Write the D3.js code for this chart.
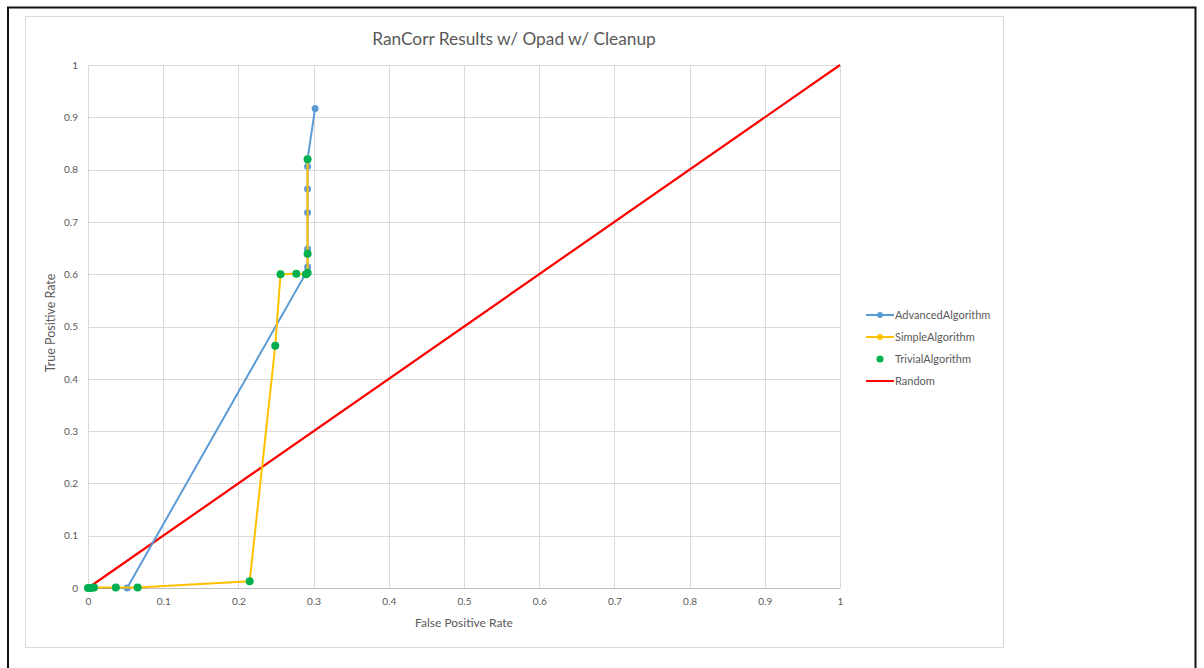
<!DOCTYPE html>
<html>
<head>
<meta charset="utf-8">
<script src="https://cdn.jsdelivr.net/npm/d3@7/dist/d3.min.js"></script>
<style>
  html, body { margin: 0; padding: 0; background: #fff; }
  svg { display: block; font-family: Lato, "Open Sans", sans-serif; }
</style>
</head>
<body>
<svg id="chart" width="1204" height="668"></svg>
<script>
// ROC points: false positive rate (x) / true positive rate (y)
const advancedFPR = [0, 0.003, 0.006, 0.052, 0.289, 0.292, 0.292, 0.292, 0.292, 0.292, 0.292, 0.302];
const advancedTPR = [0, 0, 0, 0, 0.600, 0.614, 0.648, 0.718, 0.763, 0.806, 0.820, 0.917];

const simpleFPR = [0, 0.004, 0.008, 0.037, 0.066, 0.215, 0.249, 0.256, 0.277, 0.290, 0.292, 0.292, 0.292];
const simpleTPR = [0, 0, 0.001, 0.001, 0.001, 0.013, 0.463, 0.600, 0.601, 0.600, 0.603, 0.639, 0.820];

const trivialFPR = [0, 0.004, 0.008, 0.037, 0.066, 0.215, 0.249, 0.256, 0.277, 0.290, 0.292, 0.292, 0.292];
const trivialTPR = [0, 0, 0.001, 0.001, 0.001, 0.013, 0.463, 0.600, 0.601, 0.600, 0.603, 0.639, 0.820];

const randomFPR = [0, 1];
const randomTPR = [0, 1];

const xTicks = [0, 0.1, 0.2, 0.3, 0.4, 0.5, 0.6, 0.7, 0.8, 0.9, 1];
const yTicks = [0, 0.1, 0.2, 0.3, 0.4, 0.5, 0.6, 0.7, 0.8, 0.9, 1];

const seriesNames = ["AdvancedAlgorithm", "SimpleAlgorithm", "TrivialAlgorithm", "Random"];
const seriesColors = ["#5b9bd5", "#ffc000", "#00b050", "#ff0000"];

const zip = (xs, ys) => xs.map((x, i) => ({ x, y: ys[i] }));

const svg = d3.select("#chart");
const textColor = "#595959";

// outer frame
svg.append("path")
  .attr("d", "M8,668 L8,7.5 L1195.5,7.5 L1195.5,668")
  .attr("fill", "none").attr("stroke", "#111").attr("stroke-width", 2);

// chart area box
svg.append("rect")
  .attr("x", 25.5).attr("y", 16.5).attr("width", 978).attr("height", 631)
  .attr("fill", "#fff").attr("stroke", "#d9d9d9").attr("stroke-width", 1);

const plot = { left: 88, right: 840, top: 65, bottom: 588 };
const x = d3.scaleLinear().domain([0, 1]).range([plot.left, plot.right]);
const y = d3.scaleLinear().domain([0, 1]).range([plot.bottom, plot.top]);

// gridlines
const grid = svg.append("g");
grid.selectAll("line.v").data(xTicks).join("line")
  .attr("x1", d => Math.round(x(d)) + 0.5).attr("x2", d => Math.round(x(d)) + 0.5)
  .attr("y1", plot.top).attr("y2", plot.bottom)
  .attr("stroke", "#d9d9d9").attr("stroke-width", 1);
grid.selectAll("line.h").data(yTicks).join("line")
  .attr("y1", d => Math.round(y(d)) + 0.5).attr("y2", d => Math.round(y(d)) + 0.5)
  .attr("x1", plot.left).attr("x2", plot.right)
  .attr("stroke", "#d9d9d9").attr("stroke-width", 1);

// axes (labels only, lines drawn by gridlines)
const xAxis = d3.axisBottom(x).tickValues(xTicks).tickSize(0).tickPadding(10)
  .tickFormat(d => d3.format("~g")(d));
const gx = svg.append("g").attr("transform", `translate(0,${plot.bottom})`).call(xAxis);
gx.select(".domain").attr("stroke", "#bfbfbf");
gx.selectAll("text").attr("fill", textColor).attr("font-size", 10).attr("font-family", "Lato, sans-serif");

const yAxis = d3.axisLeft(y).tickValues(yTicks).tickSize(0).tickPadding(10)
  .tickFormat(d => d3.format("~g")(d));
const gy = svg.append("g").attr("transform", `translate(${plot.left},0)`).call(yAxis);
gy.select(".domain").attr("stroke", "#d9d9d9");
gy.selectAll("text").attr("fill", textColor).attr("font-size", 10).attr("font-family", "Lato, sans-serif");

// title and axis titles
svg.append("text").attr("x", 514).attr("y", 45).attr("text-anchor", "middle")
  .attr("fill", textColor).attr("font-size", 17.3).text("RanCorr Results w/ Opad w/ Cleanup");
svg.append("text").attr("x", 464).attr("y", 627).attr("text-anchor", "middle")
  .attr("fill", textColor).attr("font-size", 12).text("False Positive Rate");
svg.append("text").attr("transform", "translate(55,323) rotate(-90)").attr("text-anchor", "middle")
  .attr("fill", textColor).attr("font-size", 12.5).text("True Positive Rate");

const line = d3.line().x(d => x(d.x)).y(d => y(d.y));

// Random baseline
const randomData = zip(randomFPR, randomTPR);
svg.append("path").datum(randomData).attr("d", line)
  .attr("fill", "none").attr("stroke", seriesColors[3]).attr("stroke-width", 2.25);

// Advanced algorithm
const advData = zip(advancedFPR, advancedTPR);
svg.append("path").datum(advData).attr("d", line)
  .attr("fill", "none").attr("stroke", seriesColors[0]).attr("stroke-width", 2);
svg.append("g").selectAll("circle").data(advData).join("circle")
  .attr("cx", d => x(d.x)).attr("cy", d => y(d.y)).attr("r", 3.5)
  .attr("fill", seriesColors[0]);

// Simple algorithm
const simData = zip(simpleFPR, simpleTPR);
svg.append("path").datum(simData).attr("d", line)
  .attr("fill", "none").attr("stroke", seriesColors[1]).attr("stroke-width", 2);
svg.append("g").selectAll("circle").data(simData).join("circle")
  .attr("cx", d => x(d.x)).attr("cy", d => y(d.y)).attr("r", 3.5)
  .attr("fill", seriesColors[1]);

// Trivial algorithm (markers only)
const trivData = zip(trivialFPR, trivialTPR);
svg.append("g").selectAll("circle").data(trivData).join("circle")
  .attr("cx", d => x(d.x)).attr("cy", d => y(d.y)).attr("r", 4)
  .attr("fill", seriesColors[2]);

// legend
const legend = svg.append("g");
seriesNames.forEach((name, i) => {
  const ly = 315 + i * 22;
  const g = legend.append("g");
  if (i !== 2) {
    g.append("line").attr("x1", 866).attr("x2", 894).attr("y1", ly).attr("y2", ly)
      .attr("stroke", seriesColors[i]).attr("stroke-width", 2);
  }
  if (i !== 3) {
    g.append("circle").attr("cx", 880).attr("cy", ly).attr("r", i === 2 ? 3.5 : 3)
      .attr("fill", seriesColors[i]);
  }
  g.append("text").attr("x", 895).attr("y", ly + 4).attr("fill", textColor)
    .attr("font-size", 11).text(name);
});
</script>
</body>
</html>
